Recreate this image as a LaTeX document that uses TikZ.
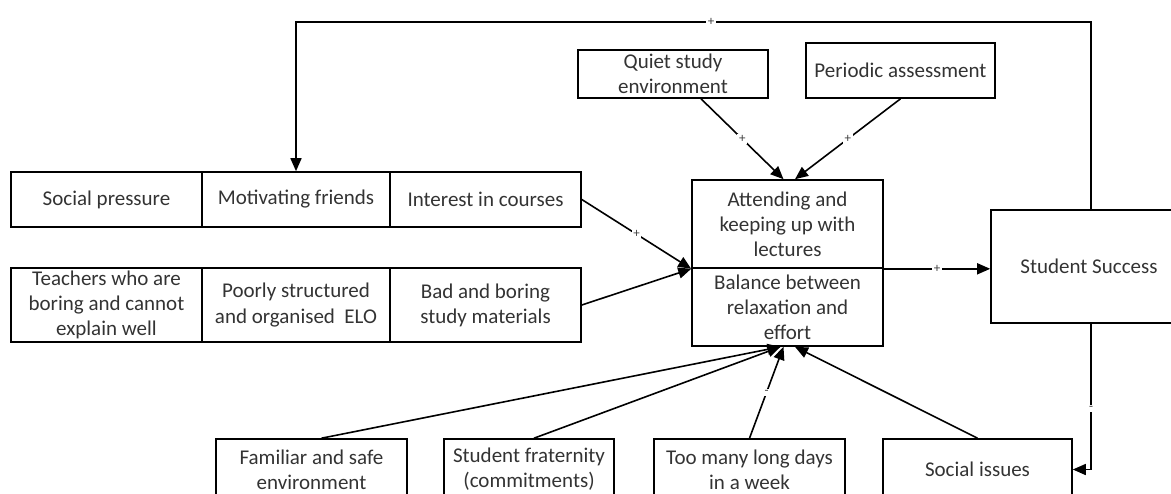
\documentclass[tikz,border=0pt]{standalone}
\usepackage{fontspec}
\setmainfont{Carlito}
\usepackage{tikz}
\usetikzlibrary{arrows.meta,calc}

\begin{document}
\begin{tikzpicture}[x=0.5pt,y=-0.5pt,
  textbox/.style={font=\fontsize{10.5}{12.6}\selectfont, text=black!80, draw, line width=0.8pt, inner sep=1pt, align=center},
  sign/.style={font=\fontsize{6.5}{6.5}\selectfont, fill=white, inner sep=0.8pt, text=black!75},
  arr/.style={-{Triangle[length=6.5pt,width=5.5pt]}, line width=0.8pt}]
\useasboundingbox (0,0) rectangle (1171,493);
\clip (0,0) rectangle (1171,493);
%upper rows
\node[textbox, minimum width=95.5pt, minimum height=27.5pt] (social) at (106.5,199.5) {Social pressure};
\node[textbox, minimum width=94pt, minimum height=27.5pt] (friends) at (296,199.5) {Motivating friends};
\node[textbox, minimum width=95.5pt, minimum height=27.5pt] (interest) at (485.5,199.5) {Interest in courses};
\node[textbox, minimum width=95.5pt, minimum height=37pt] (teachers) at (106.5,305) {Teachers who are\\boring and cannot\\explain well};
\node[textbox, minimum width=94pt, minimum height=37pt] (elo) at (296,305) {Poorly structured\\and organised~~ELO};
\node[textbox, minimum width=95.5pt, minimum height=37pt] (bad) at (485.5,305) {Bad and boring\\study materials};
\node[textbox, minimum width=95pt, minimum height=24pt] (quiet) at (673,74) {Quiet study\\environment};
\node[textbox, minimum width=94.5pt, minimum height=27.5pt] (periodic) at (900.5,70.5) {Periodic assessment};
%centre and outcome
\node[textbox, minimum width=95.5pt, minimum height=44pt] (attend) at (787.5,224) {Attending and\\keeping up with\\lectures};
\node[textbox, minimum width=95.5pt, minimum height=39pt] (balance) at (787.5,307) {Balance between\\relaxation and\\effort};
\node[textbox, minimum width=98pt, minimum height=56.5pt] (success) at (1089,266.5) {Student Success};
%bottom row
\node[textbox, minimum width=95.5pt, minimum height=30.5pt] (familiar) at (311.5,469.5) {Familiar and safe\\environment};
\node[textbox, minimum width=85pt, minimum height=30.5pt] (fraternity) at (529,469.5) {Student fraternity\\(commitments)};
\node[textbox, minimum width=95.5pt, minimum height=30.5pt] (toomany) at (749.5,469.5) {Too many long days\\in a week};
\node[textbox, minimum width=94.5pt, minimum height=30.5pt] (issues) at (977.5,469.5) {Social issues};
\coordinate (fbtop) at (711,22);
\coordinate (fbx) at (1091,22);

\draw[arr] (success.north -| fbx) -- (fbx) -- (fbtop) node[sign]{+} -| (friends.north);
\draw[arr] ($(quiet.south)+(28,0)$) -- node[sign]{+} ($(attend.north)+(-4,0)$);
\draw[arr] (periodic.south) -- node[sign]{+} ($(attend.north)+(7.5,0)$);
\draw[arr] (interest.east) -- node[sign]{+} (attend.south west);
\draw[arr] (bad.east) -- (attend.south west);
\draw[arr] (attend.south east) -- node[sign]{+} (attend.south east -| success.west);
\draw[arr] ($(familiar.north)+(10,0)$) -- ($(balance.south)+(-7,0)$);
\draw[arr] ($(fraternity.north)+(5,0)$) -- ($(balance.south)+(-7,0)$);
\draw[arr] (toomany.north) -- node[sign]{-} ($(balance.south)+(-4,0)$);
\draw[arr] (issues.north) -- ($(balance.south)+(7.5,0)$);
\draw[arr] (success.south -| fbx) |- node[sign, pos=0.29]{-} (issues.east);
\end{tikzpicture}
\end{document}
